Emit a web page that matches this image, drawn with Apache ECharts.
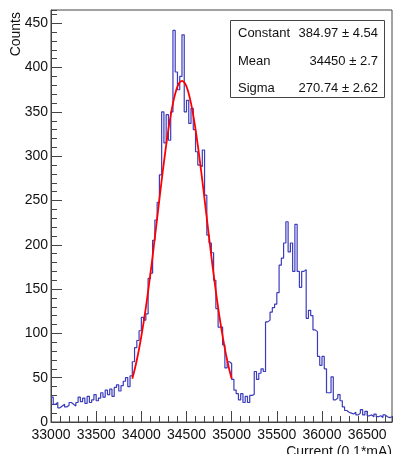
<!DOCTYPE html>
<html>
<head>
<meta charset="utf-8">
<script src="https://cdn.jsdelivr.net/npm/echarts@6.0.0/dist/echarts.min.js"></script>
<style>
  html, body { margin: 0; padding: 0; background: #fff; }
  #chart { width: 393px; height: 454px; }
</style>
</head>
<body>
<div id="chart"></div>
<script>
// histogram: 25-wide bins starting at 33000
const binStart = 33000
const binWidth = 25
const counts = [
  28, 20, 22, 16, 18, 20, 17, 19, 22, 20, 18, 22, 28, 23, 27, 21, 29, 22, 25, 31,
  24, 27, 33, 28, 36, 31, 37, 29, 39, 42, 35, 41, 46, 50, 40, 52, 68, 84, 92, 103,
  118, 115, 122, 162, 168, 205, 228, 248, 279, 350, 315, 347, 318, 350, 442, 395, 375, 390, 437, 350,
  363, 337, 354, 330, 305, 290, 288, 307, 256, 211, 202, 191, 160, 128, 107, 107, 87, 61, 68, 66,
  48, 36, 32, 25, 32, 22, 29, 22, 30, 31, 57, 48, 55, 60, 57, 113, 115, 124, 129, 133,
  146, 177, 185, 202, 226, 192, 202, 170, 223, 170, 152, 170, 172, 117, 126, 120, 104, 102, 74, 64,
  74, 60, 33, 33, 51, 25, 27, 31, 24, 17, 13, 11, 10, 9, 11, 8, 10, 14, 8, 12,
  7, 8, 6, 9, 6, 7, 5, 8, 6, 5, 6
]

// gaussian fit, 33900..35000 every 25
const fitStart = 33900
const fitCounts = [
  48.9, 58.7, 70.0, 82.6, 96.8, 112.3, 129.2, 147.5, 166.9, 187.3, 208.4, 229.8, 251.3, 272.6, 293.0,
  312.4, 330.2, 346.1, 359.6, 370.5, 378.5, 383.3, 385.0, 383.3, 378.5, 370.5, 359.6, 346.1, 330.2,
  312.4, 293.0, 272.6, 251.3, 229.8, 208.4, 187.3, 166.9, 147.5, 129.2, 112.3, 96.8, 82.6, 70.0, 58.7, 48.9
]

const statNames = ['Constant', 'Mean', 'Sigma']
const statValues = ['384.97 \u00b1 4.54', '34450 \u00b1 2.7', '270.74 \u00b1 2.62']

const xMin = 33000
const xMax = 36775
const yMax = 465

const font = '"Liberation Sans", Arial, Helvetica, sans-serif'
const frameColor = '#444'

const histData = counts.map((c, i) => [binStart + i * binWidth, c])
histData.push([binStart + counts.length * binWidth, counts[counts.length - 1]])
const fitData = fitCounts.map((c, i) => [fitStart + i * binWidth, c])

const chart = echarts.init(document.getElementById('chart'), null, { renderer: 'canvas' })

const statText = []
statNames.forEach((name, i) => {
  statText.push({
    type: 'text', left: 238, top: 27 + i * 27.5,
    style: { text: name, font: '13px ' + font, fill: '#111' }
  })
  statText.push({
    type: 'text', right: 15, top: 27 + i * 27.5,
    style: { text: statValues[i], font: '13px ' + font, fill: '#111', textAlign: 'right' }
  })
})

chart.setOption({
  animation: false,
  grid: {
    left: 51, top: 10, width: 341, height: 412,
    show: true, borderColor: frameColor, borderWidth: 1, backgroundColor: 'transparent'
  },
  xAxis: [
    {
      type: 'value', min: xMin, max: xMax, interval: 500, position: 'bottom',
      axisLine: { show: true, lineStyle: { color: frameColor } },
      axisTick: { show: true, inside: true, length: 11, lineStyle: { color: frameColor } },
      axisLabel: {
        color: '#111', fontFamily: font, fontSize: 14, margin: 6, showMaxLabel: false,
        formatter: (v) => (v % 500 === 0 ? String(v) : '')
      },
      splitLine: { show: false }
    },
    {
      type: 'value', min: xMin, max: xMax, interval: 100, position: 'bottom',
      axisLine: { show: false },
      axisTick: { show: true, inside: true, length: 6, lineStyle: { color: frameColor } },
      axisLabel: { show: false },
      splitLine: { show: false }
    }
  ],
  yAxis: [
    {
      type: 'value', min: 0, max: yMax, interval: 50, position: 'left',
      axisLine: { show: true, lineStyle: { color: frameColor } },
      axisTick: { show: true, inside: true, length: 11, lineStyle: { color: frameColor } },
      axisLabel: {
        color: '#111', fontFamily: font, fontSize: 14, margin: 3, showMaxLabel: false,
        formatter: (v) => (v % 50 === 0 ? String(v) : '')
      },
      splitLine: { show: false }
    },
    {
      type: 'value', min: 0, max: yMax, interval: 10, position: 'left',
      axisLine: { show: false },
      axisTick: { show: true, inside: true, length: 6, lineStyle: { color: frameColor } },
      axisLabel: { show: false },
      splitLine: { show: false }
    }
  ],
  series: [
    {
      name: 'hist',
      type: 'line',
      step: 'end',
      symbol: 'none',
      xAxisIndex: 0,
      yAxisIndex: 0,
      lineStyle: { color: '#3b3bbd', width: 1.2 },
      data: histData
    },
    {
      name: 'fit',
      type: 'line',
      smooth: true,
      symbol: 'none',
      xAxisIndex: 0,
      yAxisIndex: 0,
      lineStyle: { color: '#ff0000', width: 1.8 },
      data: fitData
    }
  ],
  graphic: [
    {
      type: 'rect', left: 230, top: 20,
      shape: { width: 154, height: 77 },
      style: { fill: '#fff', stroke: frameColor, lineWidth: 1 },
      z: 10
    },
    ...statText.map((t) => Object.assign(t, { z: 11 })),
    {
      type: 'text', left: 9, top: 12, rotation: Math.PI / 2,
      style: { text: 'Counts', font: '14px ' + font, fill: '#111' }
    },
    {
      type: 'text', right: 1, top: 445,
      style: { text: 'Current (0.1*mA)', font: '14px ' + font, fill: '#111', textAlign: 'right' }
    }
  ]
})
</script>
</body>
</html>
